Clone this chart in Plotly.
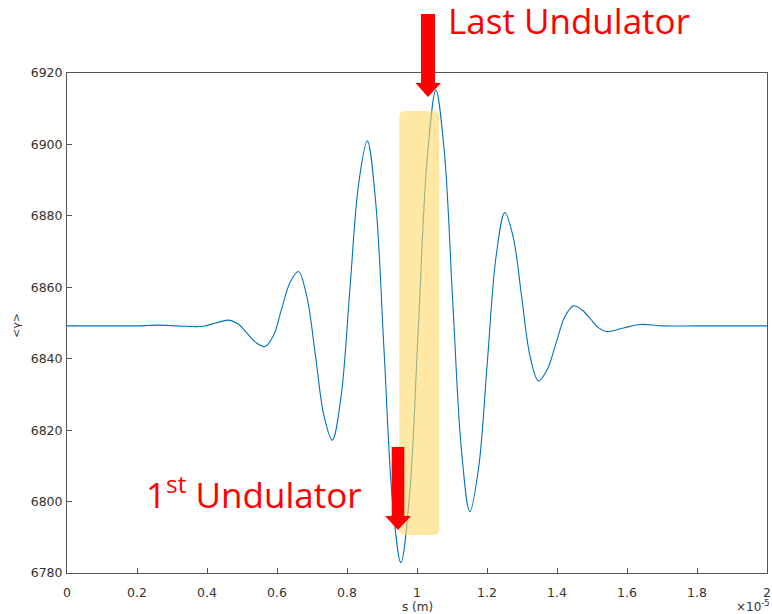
import plotly.graph_objects as go

# ---- data (s in units of 1e-5 m, <gamma>) ----
s_vals = [0.00, 0.10, 0.20, 0.23, 0.26, 0.29, 0.33, 0.36, 0.39, 0.425, 0.463,
          0.489, 0.515, 0.540, 0.566,
          0.590, 0.613, 0.637, 0.661,
          0.685, 0.710, 0.734, 0.758,
          0.783, 0.808, 0.833, 0.858,
          0.882, 0.906, 0.930, 0.954,
          0.979, 1.004, 1.029, 1.054,
          1.078, 1.102, 1.127, 1.151,
          1.176, 1.201, 1.226, 1.251,
          1.275, 1.299, 1.323, 1.347,
          1.372, 1.397, 1.422, 1.447,
          1.471, 1.495, 1.518, 1.542,
          1.590, 1.637, 1.70, 1.80, 2.00]
gamma_vals = [6849.2, 6849.2, 6849.2, 6849.3, 6849.4, 6849.3, 6849.1, 6849.0, 6849.1, 6850.0, 6850.8,
              6849.7, 6847.1, 6844.5, 6843.4,
              6846.5, 6853.9, 6861.3, 6864.4,
              6857.5, 6840.8, 6824.1, 6817.2,
              6829.4, 6859.1, 6888.8, 6901.0,
              6883.8, 6842.0, 6800.1, 6782.9,
              6802.2, 6849.1, 6895.9, 6915.2,
              6898.0, 6856.2, 6814.4, 6797.2,
              6809.4, 6839.1, 6868.7, 6880.9,
              6874.0, 6857.4, 6840.7, 6833.8,
              6836.9, 6844.3, 6851.7, 6854.8,
              6853.7, 6851.2, 6848.7, 6847.6,
              6848.6, 6849.6, 6849.2, 6849.2, 6849.2]

x_ticks = [0, 0.2, 0.4, 0.6, 0.8, 1, 1.2, 1.4, 1.6, 1.8, 2]
x_tick_text = ["0", "0.2", "0.4", "0.6", "0.8", "1", "1.2", "1.4", "1.6", "1.8", "2"]
y_ticks = [6780, 6800, 6820, 6840, 6860, 6880, 6900, 6920]

W, H = 772, 614
L, R, T, B = 67, 5, 73, 41
PW, PH = W - L - R, H - T - B


def px(x):
    return (x - L) / PW


def py(y):
    return (H - B - y) / PH


def poly(points):
    return "M " + " L ".join(f"{px(a):.5f},{py(b):.5f}" for a, b in points) + " Z"


def rounded_rect(x0, y0, x1, y1, r):
    rx, ry = r / PW, r / PH
    X0, X1 = px(x0), px(x1)
    Y0, Y1 = py(y0), py(y1)
    return (f"M {X0+rx:.5f},{Y0:.5f} L {X1-rx:.5f},{Y0:.5f} Q {X1:.5f},{Y0:.5f} {X1:.5f},{Y0-ry:.5f} "
            f"L {X1:.5f},{Y1+ry:.5f} Q {X1:.5f},{Y1:.5f} {X1-rx:.5f},{Y1:.5f} "
            f"L {X0+rx:.5f},{Y1:.5f} Q {X0:.5f},{Y1:.5f} {X0:.5f},{Y1+ry:.5f} "
            f"L {X0:.5f},{Y0-ry:.5f} Q {X0:.5f},{Y0:.5f} {X0+rx:.5f},{Y0:.5f} Z")


fig = go.Figure()
fig.add_trace(go.Scatter(x=s_vals, y=gamma_vals, mode="lines",
                         line=dict(color="#0072BD", width=1.1, shape="spline", smoothing=1),
                         showlegend=False, hoverinfo="skip"))

axis_common = dict(showline=True, mirror=True, linecolor="#555555", linewidth=1,
                   ticks="inside", ticklen=5, tickcolor="#555555", showgrid=False,
                   zeroline=False, automargin=False, ticklabeloverflow="allow",
                   tickfont=dict(family="DejaVu Sans", size=12.5, color="#333333"))

fig.update_layout(
    width=W, height=H, margin=dict(l=L, r=R, t=T, b=B, autoexpand=False),
    paper_bgcolor="white", plot_bgcolor="white",
    xaxis=dict(range=[0, 2.00001], tickvals=x_ticks, ticktext=x_tick_text,
               ticklabelstandoff=8, **axis_common),
    yaxis=dict(range=[6780, 6920], tickvals=y_ticks, ticklabelstandoff=1, **axis_common),
)

shapes = [
    dict(type="path", xref="paper", yref="paper", path=rounded_rect(399.3, 111, 439.3, 535, 6),
         fillcolor="#FFD966", opacity=0.6, line=dict(width=0), layer="above"),
    dict(type="path", xref="paper", yref="paper",
         path=poly([(421, 14), (435, 14), (435, 83), (441, 83), (428, 97), (415.5, 83), (421, 83)]),
         fillcolor="#FF0000", line=dict(width=0), layer="above"),
    dict(type="path", xref="paper", yref="paper",
         path=poly([(391.7, 447), (404.3, 447), (404.3, 516), (411, 516), (398, 530), (385, 516), (391.7, 516)]),
         fillcolor="#FF0000", line=dict(width=0), layer="above"),
]
fig.update_layout(shapes=shapes)

ann = [
    dict(text="Last Undulator", x=px(447), y=py(45), xref="paper", yref="paper",
         xanchor="left", yanchor="bottom", showarrow=False, borderpad=0,
         font=dict(family="Open Sans", size=35, color="#FF0000")),
    dict(text="1<sup>st</sup> Undulator", x=px(145), y=py(519), xref="paper", yref="paper",
         xanchor="left", yanchor="bottom", showarrow=False, borderpad=0,
         font=dict(family="Open Sans", size=35, color="#FF0000")),
    dict(text="s (m)", x=px(417), y=py(607), xref="paper", yref="paper",
         xanchor="center", yanchor="middle", showarrow=False,
         font=dict(family="DejaVu Sans", size=12, color="#333333")),
    dict(text="×10<sup>-5</sup>", x=px(771), y=py(606), xref="paper", yref="paper",
         xanchor="right", yanchor="middle", showarrow=False, borderpad=0,
         font=dict(family="DejaVu Sans", size=12, color="#333333")),
    dict(text="<γ>", x=px(16), y=py(326), xref="paper", yref="paper",
         xanchor="center", yanchor="middle", showarrow=False, textangle=-90,
         font=dict(family="DejaVu Sans", size=11, color="#333333")),
]
fig.update_layout(annotations=ann)

fig.write_html("out.html", config={"displayModeBar": False},
               post_script="document.body.style.margin='0px';")
